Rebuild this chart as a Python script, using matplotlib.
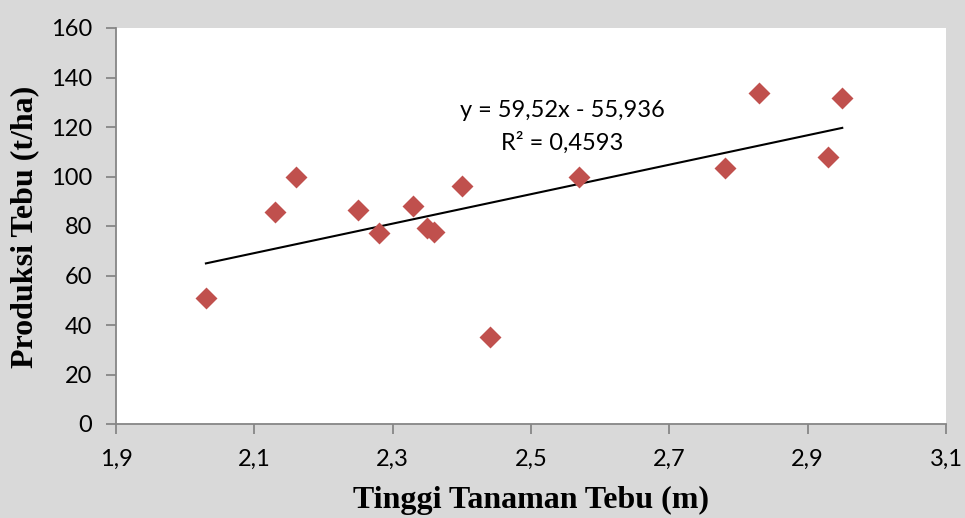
import matplotlib
matplotlib.use("Agg")
import matplotlib.pyplot as plt
import numpy as np

# Data
tinggi = [2.03, 2.13, 2.16, 2.25, 2.28, 2.33, 2.35, 2.36, 2.40, 2.44, 2.57, 2.78, 2.83, 2.93, 2.95]
produksi = [51, 85.5, 100, 86.3, 77, 88, 79, 77.5, 96, 35.3, 100, 103.3, 133.6, 108, 131.6]
slope = 59.52
intercept = -55.936
eq_text = "y = 59,52x - 55,936"
r2_text = "R² = 0,4593"
x_ticks = [1.9, 2.1, 2.3, 2.5, 2.7, 2.9, 3.1]
x_ticklabels = ["1,9", "2,1", "2,3", "2,5", "2,7", "2,9", "3,1"]
y_ticks = [0, 20, 40, 60, 80, 100, 120, 140, 160]

fig = plt.figure(figsize=(9.65, 5.18), dpi=100)
fig.patch.set_facecolor("#D9D9D9")
ax = fig.add_axes([116/965, 1 - 424/518, (946-116)/965, (424-28)/518])
ax.set_facecolor("white")

ax.scatter(tinggi, produksi, marker="D", s=125, color="#C0504D", zorder=3, linewidths=0)

xl = np.array([min(tinggi), max(tinggi)])
ax.plot(xl, slope * xl + intercept, color="black", lw=1.5, zorder=2)

ax.set_xlim(1.9, 3.1)
ax.set_ylim(0, 160)
ax.set_xticks(x_ticks)
ax.set_xticklabels(x_ticklabels)
ax.set_yticks(y_ticks)

for s in ["top", "right"]:
    ax.spines[s].set_visible(False)
for s in ["left", "bottom"]:
    ax.spines[s].set_color("#868686")
    ax.spines[s].set_linewidth(1.3)
ax.tick_params(axis="both", direction="out", length=7, width=1.3, color="#868686",
               labelsize=17)
ax.tick_params(axis="x", pad=11)
ax.tick_params(axis="y", pad=10)
for lab in ax.get_xticklabels() + ax.get_yticklabels():
    lab.set_fontfamily("Lato")
    lab.set_color("black")

ax.text(2.545, 126.5, eq_text, fontsize=17, family="Lato", ha="center", va="center")
ax.text(2.545, 113.5, r2_text, fontsize=17, family="Lato", ha="center", va="center")

fig.text(25/965, 1 - 227/518, "Produksi Tebu (t/ha)", rotation=90, fontsize=23,
         family="Liberation Serif", weight="bold", ha="center", va="center")
fig.text(531/965, 1 - 500/518, "Tinggi Tanaman Tebu (m)", fontsize=23,
         family="Liberation Serif", weight="bold", ha="center", va="center")

fig.savefig("out.png", dpi=100, facecolor=fig.get_facecolor())
